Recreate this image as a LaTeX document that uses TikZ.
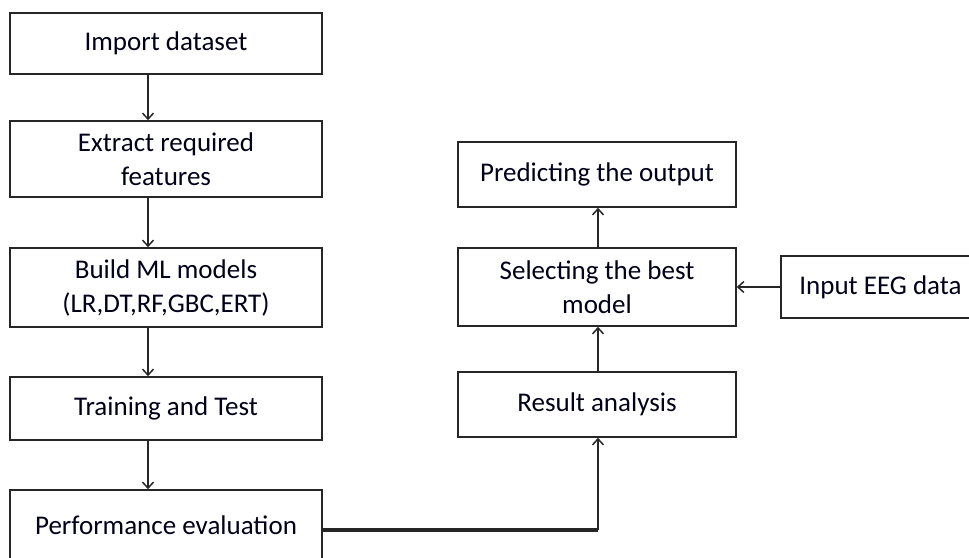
\documentclass[tikz,border=0pt]{standalone}
\usepackage{fontspec}
\setmainfont{Carlito}
\usetikzlibrary{arrows.meta}

\def\lx{166}
\def\rx{597}
\def\lw{312pt}
\def\rw{278pt}
\def\block#1#2#3#4#5{\node[block, minimum width=#2, minimum height=#4] (#1) at #3 {#5};}

\begin{document}
\begin{tikzpicture}[x=1pt, y=-1pt,
    block/.style={draw=black!85, line width=1.6pt, rectangle, align=center,
        inner sep=0pt, text=black!90!blue, font=\fontsize{27}{34}\selectfont},
    flow/.style={draw=black!85, line width=1.5pt,
        -{Straight Barb[length=6pt,width=11pt]}},
    ]
        \useasboundingbox (0,0) rectangle (969,557);
        % left column
        \block{imp}{\lw}{(\lx,43.5)}{61pt}{Import dataset}
        \block{ext}{\lw}{(\lx,159)}{76pt}{Extract required\\features}
        \block{bld}{\lw}{(\lx,287.5)}{79pt}{Build ML models\\(LR,DT,RF,GBC,ERT)}
        \block{trn}{\lw}{(\lx,408.5)}{63pt}{Training and Test}
        \block{prf}{\lw}{(\lx,525)}{70pt}{Performance evaluation}
        % right column
        \block{prd}{\rw}{(\rx,174.5)}{65pt}{Predicting the output}
        \block{sel}{\rw}{(\rx,287)}{78pt}{Selecting the best\\model}
        \block{res}{\rw}{(\rx,404.5)}{65pt}{Result analysis}
        \block{eeg}{199pt}{(880.5,287)}{62pt}{Input EEG data}

        \coordinate (lane) at (148,0);
        \coordinate (bend) at (598,530);
        \draw[flow] (imp.south -| lane) -- (ext.north -| lane);
        \draw[flow] (ext.south -| lane) -- (bld.north -| lane);
        \draw[flow] (bld.south -| lane) -- (trn.north -| lane);
        \draw[flow] (trn.south -| lane) -- (prf.north -| lane);
        \draw[draw=black!85, line width=3.2pt] (prf.east |- bend) -- (bend);
        \draw[flow] (bend) -- (res.south -| bend);
        \draw[flow] (res.north -| bend) -- (sel.south -| bend);
        \draw[flow] (sel.north -| bend) -- (prd.south -| bend);
        \draw[flow] (eeg.west) -- (sel.east |- eeg.west);
    \end{tikzpicture}
\end{document}
